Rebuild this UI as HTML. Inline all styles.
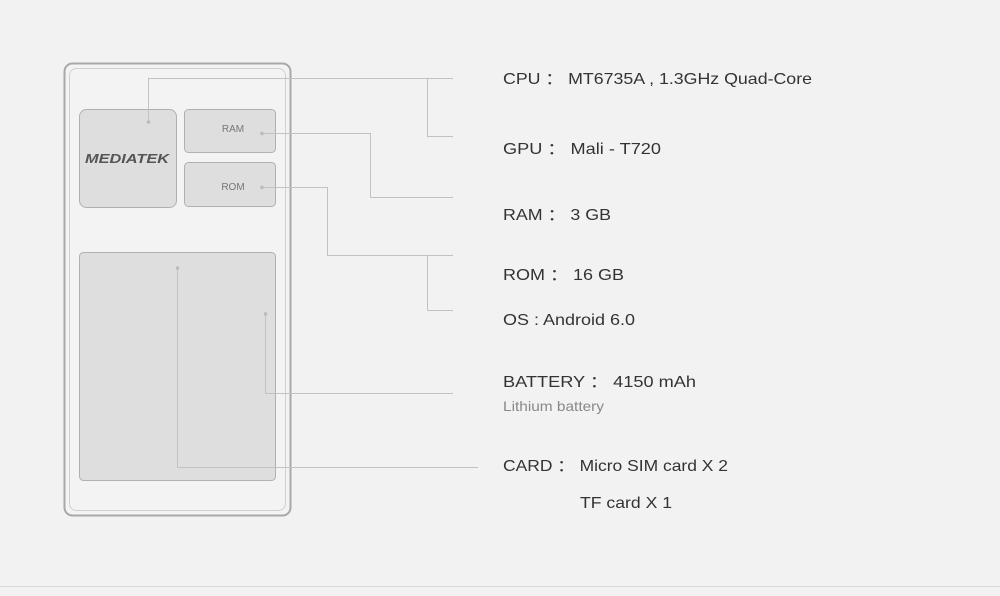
<!DOCTYPE html>
<html><head><meta charset="utf-8"><style>
html,body{margin:0;padding:0;background:#f2f2f2;}
svg{display:block;}
text{font-family:"Liberation Sans","Noto Sans CJK SC",sans-serif;fill:#333;font-size:16px;}
</style></head><body>
<svg width="1000" height="596" viewBox="0 0 1000 596" xmlns="http://www.w3.org/2000/svg">
<rect width="1000" height="596" fill="#f2f2f2"/>
<line x1="0" y1="586.5" x2="1000" y2="586.5" stroke="#d8d8d8"/>
<rect x="64.5" y="63.5" width="226" height="452" rx="8" fill="#f3f3f3" stroke="#a8a8a8" stroke-width="2"/>
<rect x="69.5" y="68.5" width="216" height="442" rx="7" fill="none" stroke="#cfcfcf"/>
<rect x="79.5" y="109.5" width="97" height="98" rx="7" fill="#dedede" stroke="#b0b0b0"/>
<rect x="184.5" y="109.5" width="91" height="43" rx="4" fill="#dedede" stroke="#b0b0b0"/>
<rect x="184.5" y="162.5" width="91" height="44" rx="4" fill="#dedede" stroke="#b0b0b0"/>
<rect x="79.5" y="252.5" width="196" height="228" rx="4" fill="#dedede" stroke="#b0b0b0"/>
<text x="233" y="132" text-anchor="middle" style="fill:#777;font-size:10px">RAM</text>
<text x="233" y="190" text-anchor="middle" style="fill:#777;font-size:10px">ROM</text>
<text x="127" y="163" text-anchor="middle" style="fill:#555;font-size:13px;font-weight:bold;font-style:italic" textLength="84" lengthAdjust="spacingAndGlyphs">MEDIATEK</text>
<g fill="none" stroke="#c2c2c2" stroke-width="1">
<polyline points="148.5,122 148.5,78.5 453,78.5"/>
<polyline points="427.5,78.5 427.5,136.5 453,136.5"/>
<polyline points="262,133.5 370.5,133.5 370.5,197.5 453,197.5"/>
<polyline points="262,187.5 327.5,187.5 327.5,255.5 453,255.5"/>
<polyline points="427.5,255.5 427.5,310.5 453,310.5"/>
<polyline points="265.5,314 265.5,393.5 453,393.5"/>
<polyline points="177.5,268 177.5,467.5 478,467.5"/>
</g>
<g fill="#bbb">
<circle cx="148.5" cy="122" r="1.8"/><circle cx="262" cy="133.5" r="1.8"/><circle cx="262" cy="187.5" r="1.8"/>
<circle cx="265.5" cy="314" r="1.8"/><circle cx="177.5" cy="268" r="1.8"/>
</g>
<text x="503" y="84" textLength="309" lengthAdjust="spacingAndGlyphs">CPU ： MT6735A , 1.3GHz Quad-Core</text>
<text x="503" y="154" textLength="158" lengthAdjust="spacingAndGlyphs">GPU ：  Mali - T720</text>
<text x="503" y="220" textLength="108" lengthAdjust="spacingAndGlyphs">RAM ：  3 GB</text>
<text x="503" y="280" textLength="121" lengthAdjust="spacingAndGlyphs">ROM ：  16 GB</text>
<text x="503" y="325" textLength="132" lengthAdjust="spacingAndGlyphs">OS : Android 6.0</text>
<text x="503" y="387" textLength="193" lengthAdjust="spacingAndGlyphs">BATTERY ：  4150 mAh</text>
<text x="503" y="411" style="fill:#888;font-size:14px" textLength="101" lengthAdjust="spacingAndGlyphs">Lithium battery</text>
<text x="503" y="471" textLength="225" lengthAdjust="spacingAndGlyphs">CARD ：  Micro SIM card X 2</text>
<text x="580" y="508" textLength="92" lengthAdjust="spacingAndGlyphs">TF card X 1</text>
</svg>
</body></html>
